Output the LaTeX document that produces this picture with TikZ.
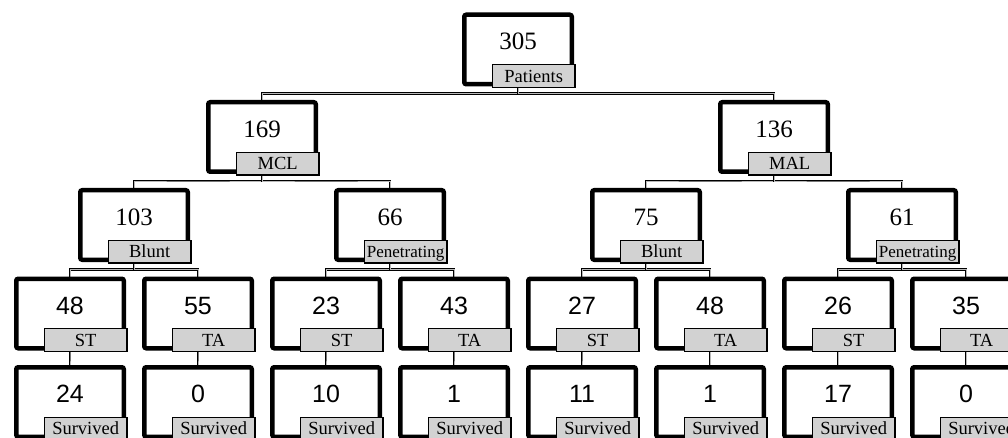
\documentclass[tikz,border=0pt]{standalone}
\usepackage{fontspec}
\setmainfont{Liberation Serif}
\newfontfamily\numsf{Liberation Sans}
\usetikzlibrary{calc,backgrounds}
\tikzset{
  tbox/.style={draw,line width=4.5pt,rounded corners=2pt,fill=white,minimum width=107.5pt,minimum height=69.5pt,inner sep=0pt},
  tag/.style={draw,line width=1.2pt,fill=gray!35,minimum width=82.8pt,minimum height=22.8pt,inner sep=0pt,text height=12.5pt,text depth=0pt,anchor=south east,font=\fontsize{18.5}{18.5}\selectfont},
  num/.style={anchor=base,font=\fontsize{25}{25}\selectfont},
  conn/.style={line width=1pt,double=gray!55,double distance=0.9pt}
}
% box with its number and grey tag
\newcommand\tnode[5]{%
  \node[tbox] (#1) at ({#2},{#3}) {};
  \node[num] at ([yshift=-37.5pt]#1.north) {#4};
  \node[tag] (#1t) at ([shift={(1.65pt,-1.65pt)}]#1.south east) {#5};
}
\newcommand\pen{\fontsize{17}{17}\selectfont Penetrating}
\begin{document}
\begin{tikzpicture}[x=1pt,y=-1pt]
  \useasboundingbox (0,0) rectangle (1008,438);
  \tnode{pat}{518}{49.5}{305}{Patients}
  \tnode{mcl}{262}{137}{169}{MCL}
  \tnode{mal}{774}{137}{136}{MAL}
  \tnode{mclb}{134}{225}{103}{Blunt}
  \tnode{mclp}{390}{225}{66}{\pen}
  \tnode{malb}{646}{225}{75}{Blunt}
  \tnode{malp}{902}{225}{61}{\pen}
  \foreach \i/\a/\b/\t in {1/48/24/ST,2/55/0/TA,3/23/10/ST,4/43/1/TA,5/27/11/ST,6/48/1/TA,7/26/17/ST,8/35/0/TA}{
    \tnode{s\i}{70+128*(\i-1)}{313.5}{\numsf\a}{\t}
    \tnode{v\i}{70+128*(\i-1)}{402}{\numsf\b}{Survived}
  }
  \begin{scope}[on background layer]
    \foreach \p/\c in {pat/mcl,pat/mal,mcl/mclb,mcl/mclp,mal/malb,mal/malp,mclb/s1,mclb/s2,mclp/s3,mclp/s4,malb/s5,malb/s6,malp/s7,malp/s8,s1/v1,s2/v2,s3/v3,s4/v4,s5/v5,s6/v6,s7/v7,s8/v8}
      \draw[conn] (\p.south) |- ($(\p.south)!.5!(\c.north)$) -| (\c.north);
  \end{scope}
\end{tikzpicture}
\end{document}
